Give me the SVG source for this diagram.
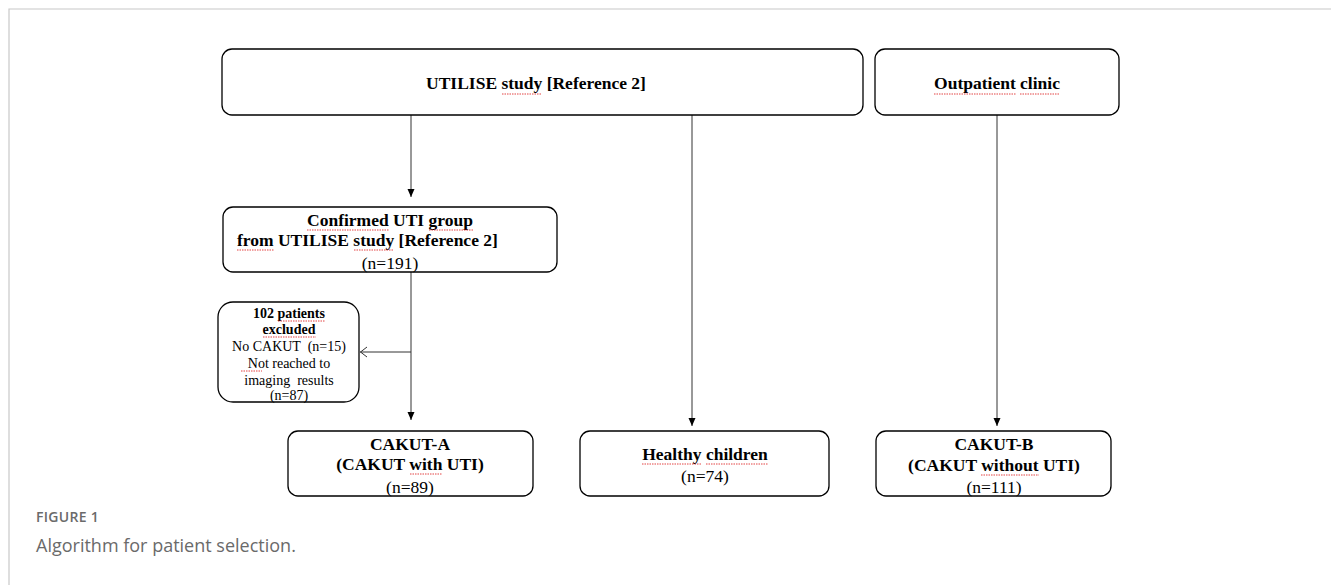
<svg xmlns="http://www.w3.org/2000/svg" width="1331" height="585" viewBox="0 0 1331 585">
<defs>
<style>
.box{fill:#fff;stroke:#000;stroke-width:1.3}
.b{font-family:"Liberation Serif","Times New Roman",serif;font-weight:bold;font-size:17.5px;fill:#000;text-anchor:middle}
.r{font-family:"Liberation Serif","Times New Roman",serif;font-size:17.5px;fill:#000;text-anchor:middle}
.sb{font-family:"Liberation Serif","Times New Roman",serif;font-weight:bold;font-size:14px;fill:#000;text-anchor:middle}
.sr{font-family:"Liberation Serif","Times New Roman",serif;font-size:14px;fill:#000;text-anchor:middle;white-space:pre}
.conn{stroke:#333;stroke-width:1;fill:none}
.sq{stroke:#e03030;stroke-width:0.9;fill:none;stroke-dasharray:1.5 1}
</style>
<marker id="ah" viewBox="0 0 8 8" refX="8" refY="4" markerWidth="8" markerHeight="8" markerUnits="userSpaceOnUse" orient="auto">
<path d="M0,0.5 L8,4 L0,7.5 Z" fill="#000"/>
</marker>
</defs>
<rect width="1331" height="585" fill="#fff"/>
<path d="M9,585 V9 H1331" fill="none" stroke="#c8c8c8" stroke-width="1.2"/>

<g id="connectors">
<line class="conn" x1="411" y1="115" x2="411" y2="197" marker-end="url(#ah)"/>
<line class="conn" x1="411" y1="272" x2="411" y2="420" marker-end="url(#ah)"/>
<line class="conn" x1="411" y1="352" x2="360" y2="352"/>
<path class="conn" d="M367,347 L360.5,352 L367,357"/>
<line class="conn" x1="692" y1="115" x2="692" y2="426" marker-end="url(#ah)"/>
<line class="conn" x1="997" y1="115" x2="997" y2="426" marker-end="url(#ah)"/>
</g>

<g id="utilise">
<rect class="box" x="222" y="49" width="641" height="66" rx="10"/>
<text class="b" x="536" y="89">UTILISE study [Reference 2]</text>
<path class="sq" d="M502,94 H542"/>
</g>

<g id="outpatient">
<rect class="box" x="875" y="49" width="244" height="66" rx="10"/>
<text class="b" x="997" y="89">Outpatient clinic</text>
<path class="sq" d="M934,94 H1016 M1020,94 H1060"/>
</g>

<g id="confirmed">
<rect class="box" x="223" y="207" width="334" height="65" rx="10"/>
<text class="b" x="390" y="226">Confirmed UTI group</text>
<text class="b" x="237" y="246" style="text-anchor:start">from UTILISE study [Reference 2]</text>
<text class="r" x="390" y="269">(n=191)</text>
<path class="sq" d="M307,230 H389 M429,230 H473 M237,250 H274 M354,250 H394"/>
</g>

<g id="excluded">
<rect class="box" x="218" y="302" width="141" height="100" rx="15"/>
<text class="sb" x="289" y="318">102 patients</text>
<text class="sb" x="289" y="334">excluded</text>
<text class="sr" x="289" y="351">No CAKUT  (n=15)</text>
<text class="sr" x="289" y="368">Not reached to</text>
<text class="sr" x="289" y="385">imaging  results</text>
<text class="sr" x="289" y="400">(n=87)</text>
<path class="sq" d="M278,321 H325 M263,337 H316 M241,371 H262"/>
</g>

<g id="cakut-a">
<rect class="box" x="288" y="431" width="245" height="65" rx="10"/>
<text class="b" x="410" y="450">CAKUT-A</text>
<text class="b" x="410" y="470">(CAKUT with UTI)</text>
<text class="r" x="410" y="493">(n=89)</text>
<path class="sq" d="M410,474 H442"/>
</g>

<g id="healthy">
<rect class="box" x="580" y="431" width="249" height="65" rx="10"/>
<text class="b" x="705" y="460">Healthy children</text>
<text class="r" x="705" y="482">(n=74)</text>
<path class="sq" d="M642,464 H701 M706,464 H768"/>
</g>

<g id="cakut-b">
<rect class="box" x="876" y="431" width="235" height="65" rx="10"/>
<text class="b" x="994" y="450">CAKUT-B</text>
<text class="b" x="994" y="471">(CAKUT without UTI)</text>
<text class="r" x="994" y="493">(n=111)</text>
<path class="sq" d="M981,475 H1039"/>
</g>

<text x="36" y="522" font-family="'Open Sans','Noto Sans',sans-serif" font-size="14" font-weight="600" letter-spacing="0.3" fill="#6a6a6a">FIGURE 1</text>
<text x="36" y="552" font-family="'Open Sans','Noto Sans',sans-serif" font-size="18" fill="#6a6a6a">Algorithm for patient selection.</text>
</svg>
